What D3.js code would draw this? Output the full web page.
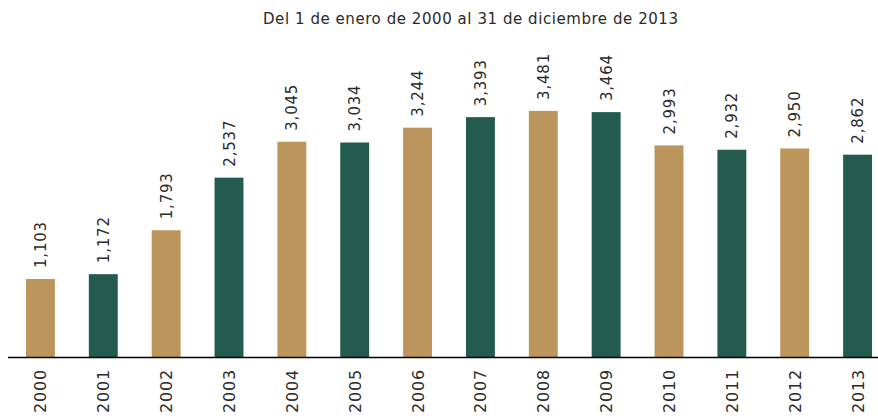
<!DOCTYPE html>
<html>
    <head>
        <meta charset="utf-8">
        <title>Bar Chart</title>
        <script src="https://cdn.jsdelivr.net/npm/d3@7/dist/d3.min.js"></script>
        <style>
            body { margin: 0; background: #fff; }
            text { font-family: "DejaVu Sans", "Noto Sans", sans-serif; }
        </style>
    </head>
    <body>
        <svg width="878" height="416" id="mainsvg"></svg>
        <script>
            // data
            const years = ["2000", "2001", "2002", "2003", "2004", "2005", "2006",
                           "2007", "2008", "2009", "2010", "2011", "2012", "2013"];
            const values = [1103, 1172, 1793, 2537, 3045, 3034, 3244,
                            3393, 3481, 3464, 2993, 2932, 2950, 2862];
            const titleText = "Del 1 de enero de 2000 al 31 de diciembre de 2013";

            const gold = "#bc955c";
            const green = "#235b4e";

            const svg = d3.select("#mainsvg");
            const baseY = 357;

            const xScale = d3.scaleBand()
                .domain(years)
                .range([9, 889])
                .paddingInner(0.54)
                .paddingOuter(0.27);

            const yScale = d3.scaleLinear()
                .domain([0, 5050])
                .range([baseY, 0]);

            const fmt = d3.format(",");

            // title
            svg.append("text")
                .attr("x", 263)
                .attr("y", 24)
                .attr("textLength", 415)
                .attr("lengthAdjust", "spacing")
                .attr("font-size", "15px")
                .attr("fill", "#2b2b2b")
                .text(titleText);

            // bars
            svg.selectAll(".bar")
                .data(years)
                .enter().append("rect")
                .attr("class", "bar")
                .attr("x", d => xScale(d))
                .attr("width", xScale.bandwidth())
                .attr("y", (d, i) => yScale(values[i]))
                .attr("height", (d, i) => baseY - yScale(values[i]))
                .attr("fill", (d, i) => i % 2 === 0 ? gold : green);

            // value labels
            svg.selectAll(".val")
                .data(years)
                .enter().append("text")
                .attr("class", "val")
                .attr("transform", (d, i) => {
                    const cx = xScale(d) + xScale.bandwidth() / 2 + 5.5;
                    const cy = yScale(values[i]) - 11;
                    return `translate(${cx}, ${cy}) rotate(-90)`;
                })
                .attr("text-anchor", "start")
                .attr("font-size", "15px")
                .attr("letter-spacing", "0.8px")
                .attr("fill", "#2b2b2b")
                .text((d, i) => fmt(values[i]));

            // x axis
            const xAxis = d3.axisBottom(xScale).tickSize(0).tickPadding(0);
            const xAxisGroup = svg.append("g")
                .attr("transform", `translate(0, ${baseY})`)
                .call(xAxis);
            xAxisGroup.select(".domain")
                .attr("d", "M8,0.5H878")
                .attr("stroke", "#000")
                .attr("stroke-width", 1.5);
            xAxisGroup.selectAll(".tick text")
                .attr("font-family", "DejaVu Sans, Noto Sans, sans-serif")
                .attr("font-size", "16px")
                .attr("letter-spacing", "0.8px")
                .attr("fill", "#2b2b2b")
                .attr("text-anchor", "end")
                .attr("dy", null)
                .attr("y", null)
                .attr("transform", "translate(6, 12) rotate(-90)");
        </script>
    </body>
</html>
